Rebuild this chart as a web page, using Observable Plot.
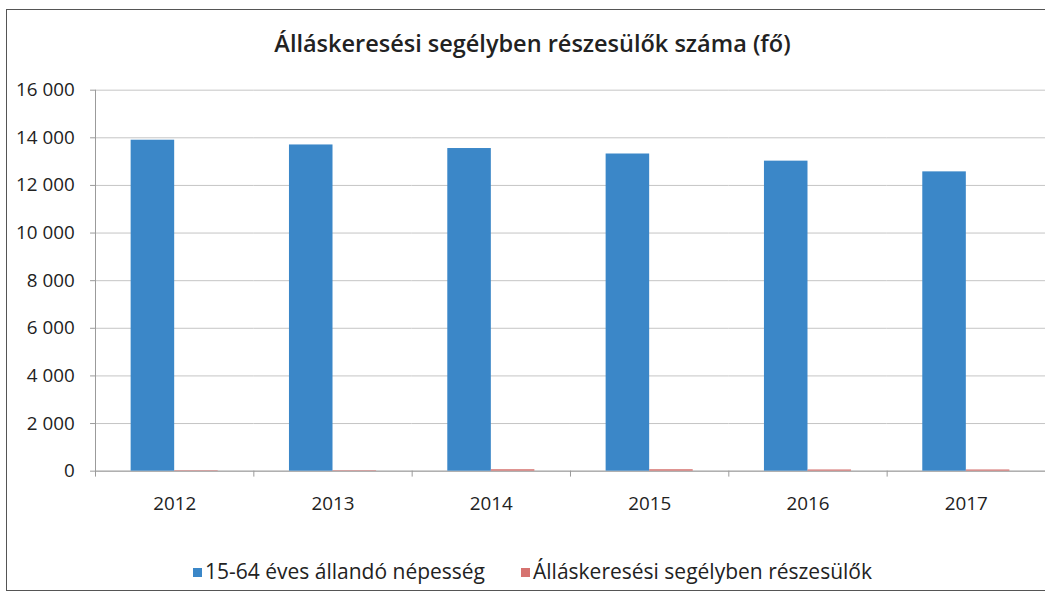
<!DOCTYPE html>
<html>
<head>
<meta charset="utf-8">
<script src="https://cdn.jsdelivr.net/npm/d3@7"></script>
<script src="https://cdn.jsdelivr.net/npm/@observablehq/plot@0.6"></script>
<style>
  html, body { margin: 0; padding: 0; background: #fff; overflow: hidden; }
  #wrap { position: relative; width: 1045px; height: 594px; overflow: hidden; font-family: "Open Sans", Lato, sans-serif; color: #222; }
  #box { position: absolute; left: 6px; top: 9px; width: 1100px; height: 582px; border: 1.5px solid #555; border-right: none; box-sizing: border-box; }
  #title { position: absolute; left: 0; width: 1065px; top: 27px; text-align: center; font-weight: 600; font-size: 23.5px; }
  #chart { position: absolute; left: 0; top: 60px; }
  #legend { position: absolute; left: 0; width: 1065px; top: 557px; text-align: center; font-size: 21px; }
  .item { display: inline-block; margin: 0 18px; }
  .sw { display: inline-block; width: 9px; height: 9px; margin-right: 3px; vertical-align: 2px; }
</style>
</head>
<body>
<div id="wrap">
  <div id="box"></div>
  <div id="title">Álláskeresési segélyben részesülők száma (fő)</div>
  <div id="chart"></div>
  <div id="legend"></div>
</div>
<script>
const years = ["2012", "2013", "2014", "2015", "2016", "2017"];
const population = [13900, 13700, 13550, 13320, 13020, 12570];
const recipients = [20, 20, 60, 60, 50, 50];
const seriesNames = ["15-64 éves állandó népesség", "Álláskeresési segélyben részesülők"];
const seriesColors = ["#3b87c8", "#d67370"];
const yTicks = [0, 2000, 4000, 6000, 8000, 10000, 12000, 14000, 16000];

const data = years.flatMap((year, i) => [
  {year, series: seriesNames[0], value: population[i]},
  {year, series: seriesNames[1], value: recipients[i]}
]);

const fmt = d => d3.format(",")(d).replace(/,/g, " ");

const chart = Plot.plot({
  width: 1056,
  height: 470,
  marginLeft: 96,
  marginRight: 0,
  marginTop: 30,
  marginBottom: 55,
  fx: {domain: years, padding: 0, label: null},
  x: {domain: seriesNames, paddingInner: 0, paddingOuter: 0.78, axis: null},
  y: {domain: [0, 16000], label: null},
  color: {domain: seriesNames, range: seriesColors},
  style: {fontFamily: "'Open Sans', Lato, sans-serif", fontSize: "19px", color: "#222", background: "transparent"},
  marks: [
    Plot.gridY(yTicks, {stroke: "#c4c4c4", strokeOpacity: 1}),
    Plot.ruleY([0], {stroke: "#9a9a9a"}),
    Plot.barY(data, {fx: "year", x: "series", y: "value", fill: "series"}),
    Plot.frame({anchor: "left", facetAnchor: "left", stroke: "#9a9a9a"}),
    Plot.axisY(yTicks, {tickFormat: fmt, tickSize: 5, tickPadding: 16, stroke: "#9a9a9a", fill: "#222", label: null, fontSize: 19}),
    Plot.axisFx({anchor: "bottom", text: null, tickSize: 6, dx: -80, stroke: "#9a9a9a", label: null}),
    Plot.axisFx({anchor: "bottom", tickSize: 0, tickPadding: 26, fill: "#222", label: null, fontSize: 19})
  ]
});
document.getElementById("chart").appendChild(chart);

const legend = document.getElementById("legend");
seriesNames.forEach((name, i) => {
  const item = document.createElement("span");
  item.className = "item";
  const sw = document.createElement("span");
  sw.className = "sw";
  sw.style.background = seriesColors[i];
  item.appendChild(sw);
  item.appendChild(document.createTextNode(name));
  legend.appendChild(item);
});
</script>
</body>
</html>
